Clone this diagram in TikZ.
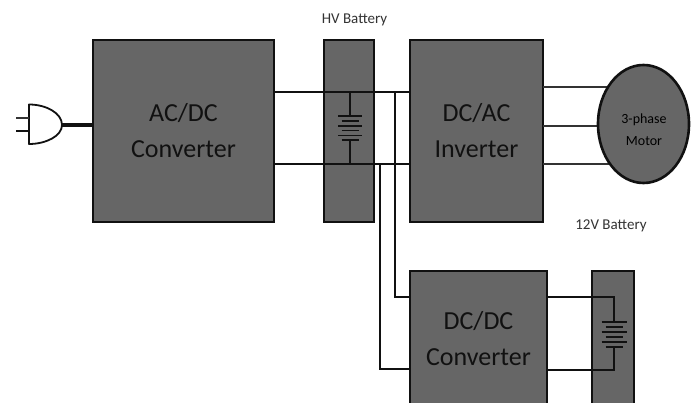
\documentclass[tikz,border=0pt]{standalone}
\usepackage{fontspec}
\setmainfont{Carlito}
\definecolor{boxgray}{HTML}{666666}
\definecolor{inkdark}{HTML}{111111}
\definecolor{labelgray}{HTML}{333333}
\tikzset{
  blockbox/.style={draw=inkdark,fill=boxgray,line width=2.4pt,inner sep=0pt,outer sep=0pt,align=center,text=inkdark,font=\fontsize{26}{36}\selectfont},
  motorbox/.style={ellipse,draw=inkdark,fill=boxgray,line width=2.6pt,inner sep=0pt,outer sep=0pt},
  motortext/.style={align=center,text=black,inner sep=0pt,font=\fontsize{14}{22}\selectfont},
  wire/.style={draw=inkdark,line width=1.7pt},
  motorwire/.style={draw=labelgray,line width=2.8pt},
  plate/.style={draw=inkdark,line width=1.6pt},
  caption/.style={text=labelgray,font=\fontsize{15}{18}\selectfont,inner sep=0pt},
}
\usetikzlibrary{shapes.geometric}
\begin{document}
\begin{tikzpicture}[x=1pt,y=-1pt]
\clip (0,0) rectangle (697,403);
\fill[white] (0,0) rectangle (697,403);
% blocks
\node[blockbox,minimum width=181pt,minimum height=182pt] (acdc) at (183.5,131) {AC/DC\\Converter};
\node[blockbox,minimum width=50pt,minimum height=182pt] (hv) at (349,131) {};
\node[blockbox,minimum width=133pt,minimum height=182pt] (dcac) at (476.5,131) {DC/AC\\Inverter};
\node[blockbox,minimum width=137pt,minimum height=136pt] (dcdc) at (478.5,339) {DC/DC\\Converter};
\node[blockbox,minimum width=42pt,minimum height=136pt] (lv) at (613,339) {};
% captions
\node[caption] (hvlabel) at (354.5,20) {HV Battery};
\node[caption] (lvlabel) at (611,226) {12V Battery};
% junction coordinates
\coordinate (hvtop) at (350,92);
\coordinate (hvbot) at (350,164);
\coordinate (tapa) at (395,92);
\coordinate (tapb) at (380,164);
\coordinate (dcin1) at (410,297);
\coordinate (dcin2) at (410,369);
\coordinate (lvtop) at (614,297);
\coordinate (lvbot) at (614,370);
% HV bus
\draw[wire] (acdc.east |- hvtop) -- (dcac.west |- hvtop);
\draw[wire] (acdc.east |- hvbot) -- (dcac.west |- hvbot);
\draw[wire,line join=miter] (tapa) -- (tapa |- dcin1) -- (dcin1);
\draw[wire,line join=miter] (tapb) -- (tapb |- dcin2) -- (dcin2);
% HV battery symbol
\coordinate (hvp1) at (350,116);
\coordinate (hvp2) at (350,140);
\draw[wire] (hvtop) -- (hvp1);
\draw[wire] (hvp2) -- (hvbot);
\foreach \yy/\hw in {116/12,121/8.5,126/12,130.5/8.5,135.5/12,140/8.5}
  \draw[plate] (350-\hw,\yy) -- (350+\hw,\yy);
% 12V wires and symbol
\coordinate (lvp1) at (614,322);
\coordinate (lvp2) at (614,347);
\draw[wire,line join=miter] (dcdc.east |- lvtop) -- (lvtop) -- (lvp1);
\draw[wire,line join=miter] (dcdc.east |- lvbot) -- (lvbot) -- (lvp2);
\foreach \yy/\hw in {322/12.5,327/8.5,332/12.5,337/8.5,342/12.5,347/8.5}
  \draw[plate] (614-\hw,\yy) -- (614+\hw,\yy);
% motor
\coordinate (ma) at (620,87);
\coordinate (mb) at (620,126);
\coordinate (mc) at (620,164);
\draw[motorwire] (dcac.east |- ma) -- (ma);
\draw[motorwire] (dcac.east |- mb) -- (mb);
\draw[motorwire] (dcac.east |- mc) -- (mc);
\node[motorbox,minimum width=91pt,minimum height=118pt] (motor) at (643.5,124) {};
\node[motortext] (motorlabel) at (644,130) {3-phase\\Motor};
% plug
\coordinate (plugtop) at (29,104.5);
\coordinate (plugbot) at (29,144);
\coordinate (plugnose) at (62,125);
\draw[draw=inkdark,line width=1.8pt,line join=round] (plugtop)
  .. controls (46,104.5) and (62,113) .. (plugnose)
  .. controls (62,136) and (46,144) .. (plugbot) -- cycle;
\draw[inkdark,line width=4pt] (plugnose) -- (acdc.west |- plugnose);
\coordinate (prong1) at (16,118);
\coordinate (prong2) at (16,131);
\draw[labelgray,line width=2.2pt] (prong1) -- (prong1 -| plugtop);
\draw[inkdark,line width=1.6pt] (prong2) -- (prong2 -| plugtop);
\end{tikzpicture}
\end{document}
